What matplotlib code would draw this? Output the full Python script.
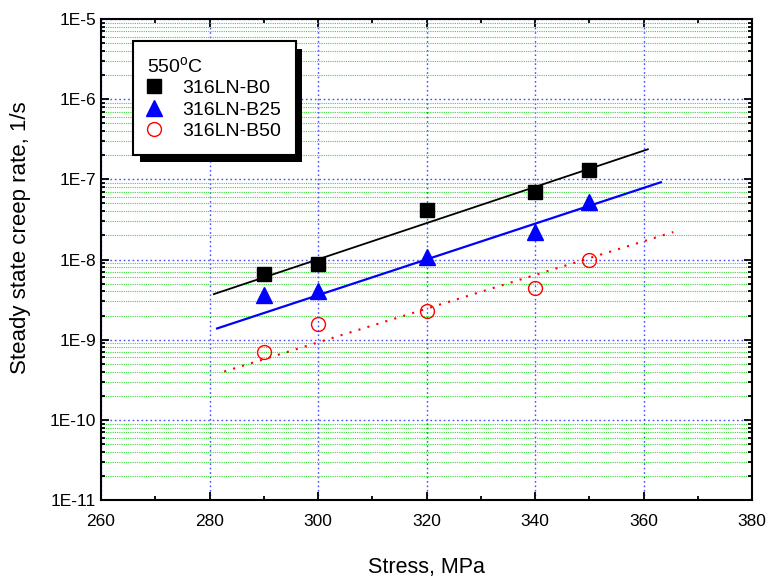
import numpy as np
import matplotlib
matplotlib.use("Agg")
import matplotlib.pyplot as plt
import matplotlib.patheffects as pe
from matplotlib.ticker import LogLocator, MultipleLocator, FuncFormatter, NullFormatter

plt.rcParams['font.family'] = ['Liberation Sans', 'DejaVu Sans']
plt.rcParams['mathtext.default'] = 'regular'

# stress (MPa)
stress = [290, 300, 320, 340, 350]

# steady state creep rates (1/s)
rate_b0 = [6.5e-9, 8.7e-9, 4.2e-8, 7.0e-8, 1.3e-7]
rate_b25 = [3.6e-9, 4.1e-9, 1.07e-8, 2.2e-8, 5.2e-8]
rate_b50 = [7.0e-10, 1.55e-9, 2.3e-9, 4.4e-9, 9.8e-9]

# fitted lines (end points)
fit_b0_x = [280.8, 360.8]
fit_b0_y = [3.7e-9, 2.37e-7]
fit_b25_x = [281.4, 363.2]
fit_b25_y = [1.38e-9, 9.2e-8]
fit_b50_x = [282.7, 365.5]
fit_b50_y = [4.0e-10, 2.2e-8]

labels = ['316LN-B0', '316LN-B25', '316LN-B50']
x_ticks = [260, 280, 300, 320, 340, 360, 380]

fig = plt.figure(figsize=(7.68, 5.77), dpi=100)
ax = fig.add_axes([101/768, 1 - 500/577, (752 - 101)/768, (500 - 19)/577])
ax.set_yscale('log')
ax.set_xlim(260, 380)
ax.set_ylim(1e-11, 1e-5)

# grid
ax.xaxis.set_major_locator(MultipleLocator(20))
ax.xaxis.set_minor_locator(MultipleLocator(10))
ax.yaxis.set_major_locator(LogLocator(base=10, numticks=20))
ax.yaxis.set_minor_locator(LogLocator(base=10, subs=np.arange(2, 10), numticks=20))
ax.yaxis.set_minor_formatter(NullFormatter())
ax.yaxis.set_major_formatter(FuncFormatter(lambda v, p: '1E%d' % round(np.log10(v))))
ax.grid(True, which='major', axis='both', color='#4a4aff', linestyle=(0, (1.2, 2)), linewidth=1.0)
ax.grid(True, which='minor', axis='y', color='#33dd33', linestyle=(0, (1, 1)), linewidth=0.8)
ax.set_axisbelow(True)

# fit lines
ax.plot(fit_b0_x, fit_b0_y, color='black', lw=1.3)
ax.plot(fit_b25_x, fit_b25_y, color='blue', lw=1.6)
ax.plot(fit_b50_x, fit_b50_y, color='red', lw=1.5, linestyle=(0, (1, 3.5)))

# data
ax.plot(stress, rate_b0, 's', color='black', ms=9.6, label=labels[0])
ax.plot(stress, rate_b25, '^', color='blue', ms=12, label=labels[1])
ax.plot(stress, rate_b50, 'o', mfc='none', mec='red', mew=1.0, ms=10, label=labels[2])

ax.tick_params(which='both', direction='in', top=True, right=True, width=1.3, labelsize=12.5)
ax.tick_params(which='major', length=6)
ax.tick_params(which='minor', length=3)
ax.tick_params(axis='x', pad=10)
for s in ax.spines.values():
    s.set_linewidth(1.5)

ax.set_xticks(x_ticks)
ax.set_xlabel('Stress, MPa', fontsize=15.5, labelpad=20)
ax.set_ylabel('Steady state creep rate, 1/s', fontsize=16)
ax.yaxis.set_label_coords(-0.107, 0.545)

leg = ax.legend(title='550$^{o}$C', loc='upper left', bbox_to_anchor=(0.049, 0.954),
                borderaxespad=0, fontsize=14, title_fontsize=14, alignment='left',
                fancybox=False, framealpha=1, edgecolor='black', handlelength=0.7,
                handletextpad=1.08, labelspacing=0.2, borderpad=0.75)
leg.get_frame().set_linewidth(1.5)
leg.get_frame().set_path_effects([pe.withSimplePatchShadow(offset=(5, -5.5), shadow_rgbFace='black', alpha=1)])

fig.savefig('out.png', dpi=100)
